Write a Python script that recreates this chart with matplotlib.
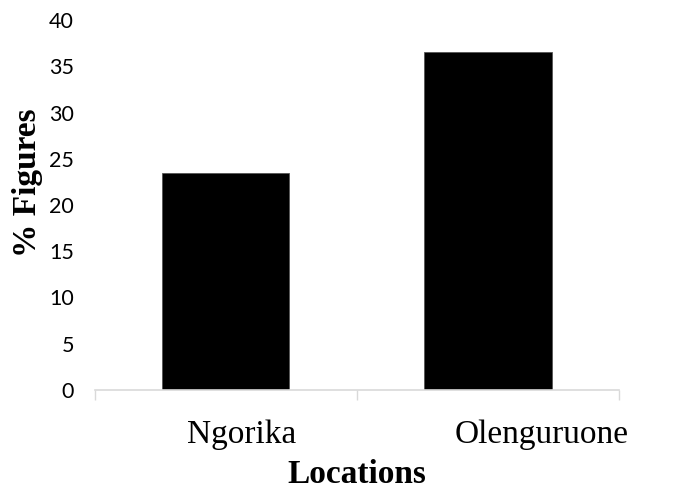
import numpy as np
import matplotlib

matplotlib.use("Agg")
import matplotlib.pyplot as plt
import matplotlib.transforms as mtransforms

# data
locations = ["Ngorika", "Olenguruone"]
percent = [23.5, 36.6]
y_ticks = [0, 5, 10, 15, 20, 25, 30, 35, 40]

fig = plt.figure(figsize=(6.78, 4.91), dpi=100)
ax = fig.add_axes([0.140, 0.206, 0.773, 0.753])

x = np.arange(len(locations))
ax.bar(x, percent, width=0.485, color="black", edgecolor="#555555", linewidth=0.6)

ax.set_xlim(-0.5, len(locations) - 0.5)
ax.set_ylim(0, 40)
ax.set_yticks(y_ticks)
ax.set_yticklabels([str(v) for v in y_ticks], family="Lato", fontsize=15.5)

# category labels, tick marks on the category boundaries
ax.set_xticks(x)
ax.set_xticklabels(locations, family="Liberation Serif", fontsize=24)
ax.set_xticks(np.arange(-0.5, len(locations), 1.0), minor=True)
ax.tick_params(axis="x", which="major", length=0, pad=21)
ax.tick_params(axis="x", which="minor", length=7, width=1, color="#d9d9d9")
ax.tick_params(axis="y", length=0, pad=15)

# the reference draws the category names shifted to the right of the bars
shifts = [0.16, 0.54]  # inches
for lbl, dx in zip(ax.get_xticklabels(), shifts):
    lbl.set_transform(lbl.get_transform()
                      + mtransforms.ScaledTranslation(dx, 0, fig.dpi_scale_trans))

for side in ["top", "right", "left"]:
    ax.spines[side].set_visible(False)
ax.spines["bottom"].set_color("#d9d9d9")
ax.spines["bottom"].set_linewidth(1.2)

ax.set_xlabel("Locations", family="Liberation Serif", fontsize=24, fontweight="bold", labelpad=7)
ax.set_ylabel("% Figures", family="Liberation Serif", fontsize=24, fontweight="bold")
ax.yaxis.set_label_coords(-0.100, 0.561)

plt.savefig("out.png", dpi=100)
